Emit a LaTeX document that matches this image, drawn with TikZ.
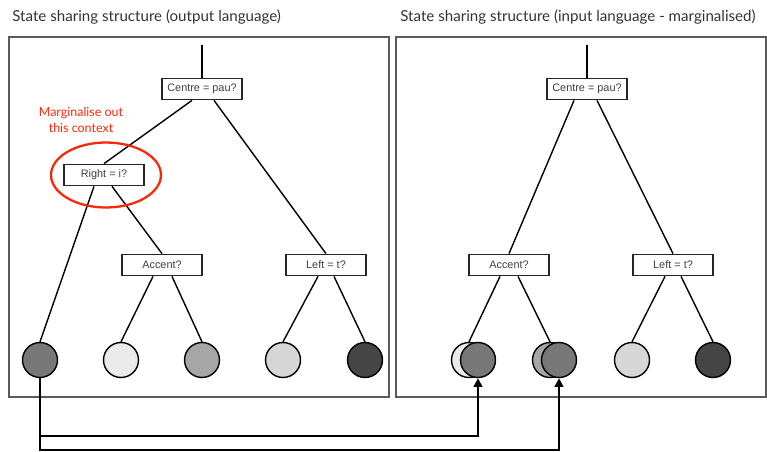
\documentclass[tikz,border=0pt]{standalone}
\usepackage{fontspec}
\setmainfont{Liberation Sans}
\newfontfamily\gill{Lato}
\usetikzlibrary{shapes.geometric,arrows.meta}

\definecolor{marg}{RGB}{250,40,10}
\definecolor{frame}{RGB}{90,90,90}

\tikzset{
  qbox/.style={draw=black!85,line width=1pt,fill=white,minimum width=1.6cm,
    minimum height=0.42cm,inner sep=0pt,font=\fontsize{6.2}{7.4}\selectfont,text=black!75},
  leaf/.style={circle,draw=black,line width=0.8pt,minimum size=0.7cm,inner sep=0pt},
  branch/.style={line width=0.8pt},
  link/.style={line width=1.4pt,-{Triangle[length=5pt,width=5pt]}},
  title/.style={font=\gill\fontsize{8.6}{10}\selectfont,text=black!80,anchor=west,inner sep=0pt}
}

\begin{document}
\begin{tikzpicture}[x=0.02cm,y=-0.02cm]
  \useasboundingbox (0,0) rectangle (767,452);

  % panels
  \node[title] (t1) at (12,17) {State sharing structure (output language)};
  \node[title] (t2) at (400,17) {State sharing structure (input language - marginalised)};
  \draw[frame,line width=0.6pt] (9,37) rectangle (389,397);
  \draw[frame,line width=0.6pt] (396,37) rectangle (766,397);

  % output language tree
  \node[qbox] (cl) at (202,89)  {Centre = pau?};
  \node[qbox] (rl) at (104,175) {Right = i?};
  \node[qbox] (al) at (162,265) {Accent?};
  \node[qbox] (ll) at (326,265) {Left = t?};
  \coordinate (topl) at (202,45);

  \node[leaf,fill=black!53] (o1) at (40,360)  {};
  \node[leaf,fill=black!8]  (o2) at (121,360) {};
  \node[leaf,fill=black!35] (o3) at (202,360) {};
  \node[leaf,fill=black!16] (o4) at (283,360) {};
  \node[leaf,fill=black!73] (o5) at (365,360) {};

  \draw[branch] (topl) -- (cl);
  \draw[branch] ([xshift=-0.2cm]cl.south) -- (rl.north);
  \draw[branch] ([xshift=0.24cm]cl.south) -- (ll.north);
  \draw[branch] ([xshift=-0.2cm]rl.south) -- (o1.north);
  \draw[branch] ([xshift=0.16cm]rl.south) -- (al.north);
  \draw[branch] ([xshift=-0.18cm]al.south) -- (o2.north);
  \draw[branch] ([xshift=0.2cm]al.south) -- (o3.north);
  \draw[branch] ([xshift=-0.16cm]ll.south) -- (o4.north);
  \draw[branch] ([xshift=0.16cm]ll.south) -- (o5.north);

  % marginalised context
  \node[ellipse,draw=marg,line width=1.3pt,minimum width=2.2cm,minimum height=1.3cm] (ring) at (106,175) {};
  \node[font=\gill\fontsize{7.1}{9.4}\selectfont,text=marg,align=center] (note) at (81,120)
    {Marginalise out\\this context};

  % input language tree
  \node[qbox] (ci) at (587,89)  {Centre = pau?};
  \node[qbox] (ai) at (509,265) {Accent?};
  \node[qbox] (li) at (673,265) {Left = t?};
  \coordinate (topi) at (587,45);

  \node[leaf,fill=black!8]  (i1b) at (469,360) {};
  \node[leaf,fill=black!53] (i1)  at (478,360) {};
  \node[leaf,fill=black!35] (i2b) at (550,360) {};
  \node[leaf,fill=black!53] (i2)  at (559,360) {};
  \node[leaf,fill=black!16] (i3)  at (632,360) {};
  \node[leaf,fill=black!73] (i4)  at (713,360) {};

  \draw[branch] (topi) -- (ci);
  \draw[branch] ([xshift=-0.26cm]ci.south) -- (ai.north);
  \draw[branch] ([xshift=0.2cm]ci.south) -- (li.north);
  \draw[branch] ([xshift=-0.18cm]ai.south) -- (i1b.north);
  \draw[branch] ([xshift=0.18cm]ai.south) -- (i2b.north);
  \draw[branch] ([xshift=-0.16cm]li.south) -- (i3.north);
  \draw[branch] ([xshift=0.16cm]li.south) -- (i4.north);

  % where the merged state goes
  \coordinate (b1) at (40,436);
  \coordinate (b2) at (40,450);
  \draw[link] (o1.south) -- (b1) -| (i1.south);
  \draw[link] (o1.south) -- (b2) -| (i2.south);
\end{tikzpicture}
\end{document}
